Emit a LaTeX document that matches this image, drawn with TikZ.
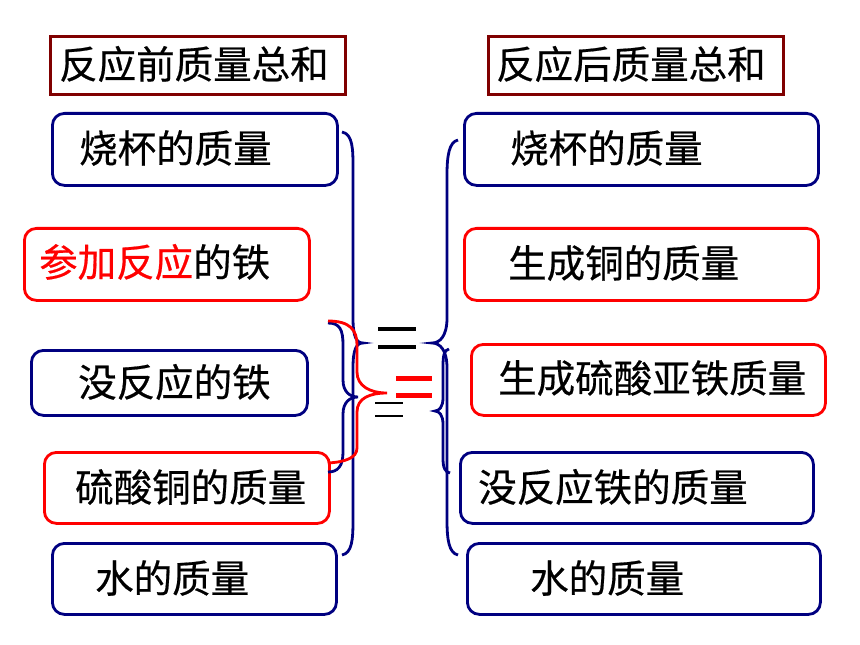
\documentclass[tikz,border=0pt]{standalone}
\usepackage{fontspec}
\newfontfamily\cjk[FakeBold=0.5]{Noto Sans CJK SC}
\definecolor{navy}{RGB}{0,0,128}
\definecolor{dkred}{RGB}{128,0,0}
\definecolor{brred}{RGB}{255,0,0}
\begin{document}
\begin{tikzpicture}[x=1bp,y=-1bp,
  boxbase/.style={draw, line width=2.8bp, rounded corners=12bp, anchor=north west, inner sep=0pt},
  bluebox/.style={boxbase, draw=navy},
  redbox/.style={boxbase, draw=brred},
  titlebox/.style={draw=dkred, line width=2.8bp, anchor=north west, inner sep=0pt, minimum height=58bp, minimum width=295bp},
  lbl/.style={font=\cjk\fontsize{38.5bp}{42bp}\selectfont, inner sep=0pt, anchor=west, text=black},
  bracenavy/.style={draw=navy, line width=2.8bp},
  bracered/.style={draw=brred, line width=2.8bp},
  eqblack/.style={draw=black, line width=3.2bp},
  eqsmall/.style={draw=black, line width=2.4bp},
  eqred/.style={draw=brred, line width=5.5bp}
]
\useasboundingbox (0,0) rectangle (860,645);

% titles
\node[titlebox] (L0) at (49,35) {};
\node[lbl] (tL0) at (59,64) {反应前质量总和};
\node[titlebox] (R0) at (487,35) {};
\node[lbl] (tR0) at (496,64) {反应后质量总和};

% left boxes
\node[bluebox, minimum width=285bp, minimum height=72bp] (L1) at (51,112) {};
\node[lbl] (tL1) at (79,148) {烧杯的质量};
\node[redbox, minimum width=285bp, minimum height=72bp] (L2) at (23,227) {};
\node[lbl] (tL2) at (39,262) {{\color{brred}参加反应}的铁};
\node[bluebox, minimum width=276bp, minimum height=65bp] (L3) at (30,349) {};
\node[lbl] (tL3) at (78,382) {没反应的铁};
\node[redbox, minimum width=285bp, minimum height=71bp] (L4) at (43,451) {};
\node[lbl] (tL4) at (75,487) {硫酸铜的质量};
\node[bluebox, minimum width=284bp, minimum height=71bp] (L5) at (51,542) {};
\node[lbl] (tL5) at (95,578) {水的质量};

% right boxes
\node[bluebox, minimum width=354bp, minimum height=72bp] (R1) at (463,112) {};
\node[lbl] (tR1) at (510,148) {烧杯的质量};
\node[redbox, minimum width=354bp, minimum height=72bp] (R2) at (463,227) {};
\node[lbl] (tR2) at (508,263) {生成铜的质量};
\node[redbox, minimum width=354bp, minimum height=71bp] (R3) at (470,343) {};
\node[lbl] (tR3) at (498,378) {生成硫酸亚铁质量};
\node[bluebox, minimum width=353bp, minimum height=71bp] (R4) at (459,451) {};
\node[lbl] (tR4) at (478,487) {没反应铁的质量};
\node[bluebox, minimum width=353bp, minimum height=71bp] (R5) at (466,542) {};
\node[lbl] (tR5) at (530,578) {水的质量};

% left big navy brace
\draw[bracenavy] (342,132) .. controls (353,134) and (353,150) .. (353,168) -- (353,318)
  .. controls (353,336) and (356,343) .. (363,343) .. controls (356,343) and (353,350) .. (353,368)
  -- (353,520) .. controls (353,540) and (352,553) .. (342,555);
% left small navy brace
\draw[bracenavy] (328,323) .. controls (340,323) and (343,330) .. (343,345) -- (343,380)
  .. controls (343,392) and (350,397) .. (358,397) .. controls (350,397) and (343,402) .. (343,414)
  -- (343,452) .. controls (343,466) and (338,472) .. (328,472);
% red brace
\draw[bracered] (328,321) .. controls (350,321) and (357,330) .. (357,345) -- (357,372)
  .. controls (357,386) and (370,393) .. (387,393) .. controls (370,393) and (357,398) .. (357,412)
  -- (357,448) .. controls (357,458) and (345,462) .. (328,463);

% right big navy brace
\draw[bracenavy] (458,140) .. controls (449,142) and (447,156) .. (447,175) -- (447,318)
  .. controls (447,336) and (440,343) .. (432,343) .. controls (440,343) and (447,350) .. (447,368)
  -- (447,520) .. controls (447,540) and (449,553) .. (458,555);
% right small navy brace
\draw[bracenavy] (449,349) .. controls (444,350) and (443,356) .. (443,366) -- (443,398)
  .. controls (443,407) and (439,411) .. (435,411) .. controls (439,411) and (443,415) .. (443,424)
  -- (443,458) .. controls (443,468) and (445,472) .. (450,473);

% equals signs
\draw[eqblack] (378,329) -- (416,329);
\draw[eqblack] (378,347) -- (416,347);
\draw[eqred] (396,378.5) -- (432,378.5);
\draw[eqred] (396,395.5) -- (432,395.5);
\draw[eqsmall] (375,403) -- (403,403);
\draw[eqsmall] (375,416) -- (403,416);
\end{tikzpicture}
\end{document}
